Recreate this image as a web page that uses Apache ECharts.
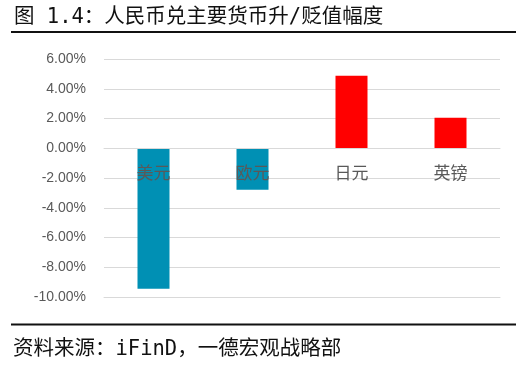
<!DOCTYPE html>
<html>
<head>
<meta charset="utf-8">
<script src="https://cdn.jsdelivr.net/npm/echarts@6/dist/echarts.min.js"></script>
<style>html,body{margin:0;padding:0;background:#fff;}#c{width:524px;height:368px;}</style>
</head>
<body>
<div id="c"></div>
<script>
const titleText = '图 1.4：人民币兑主要货币升/贬值幅度';
const sourceText = '资料来源：iFinD，一德宏观战略部';
const categories = ['美元', '欧元', '日元', '英镑'];
const values = [-9.45, -2.79, 4.87, 2.05];
const yMin = -10, yMax = 6, yStep = 2;

const gridTop = 59, gridBottom = 71, H = 368;
const plotH = H - gridTop - gridBottom;
const zeroOffset = -((0 - yMin) / (yMax - yMin)) * plotH;

const chart = echarts.init(document.getElementById('c'), null, {renderer: 'canvas'});
const monoFont = '"DejaVu Sans Mono", "Noto Sans CJK SC", sans-serif';
chart.setOption({
  animation: false,
  backgroundColor: '#ffffff',
  grid: {left: 104, right: 24, top: gridTop, bottom: gridBottom, containLabel: false},
  xAxis: [{
    type: 'category',
    data: categories,
    z: 10,
    position: 'bottom',
    offset: zeroOffset,
    axisLine: {show: true, onZero: false, lineStyle: {color: '#d9d9d9', width: 1}},
    axisTick: {show: false},
    axisLabel: {color: '#595959', fontSize: 17, margin: 16, fontFamily: '"Noto Sans CJK SC", sans-serif'},
    splitLine: {show: false}
  }, {
    type: 'category',
    data: categories,
    position: 'bottom',
    axisLine: {show: true, onZero: false, lineStyle: {color: '#d9d9d9', width: 1}},
    axisTick: {show: false},
    axisLabel: {show: false},
    splitLine: {show: false}
  }],
  yAxis: {
    type: 'value',
    min: yMin, max: yMax, interval: yStep,
    axisLine: {show: false},
    axisTick: {show: false},
    axisLabel: {color: '#595959', fontSize: 14, margin: 18, fontFamily: '"Liberation Sans", Arial, sans-serif',
      formatter: v => v.toFixed(2) + '%'},
    splitLine: {show: true, showMinLine: true, showMaxLine: true, lineStyle: {color: '#d9d9d9', width: 1}}
  },
  series: [{
    type: 'bar',
    xAxisIndex: 0,
    barWidth: 32,
    data: values.map(v => ({value: v, itemStyle: {color: v < 0 ? '#0090b4' : '#ff0000'}}))
  }],
  graphic: [
    {type: 'text', left: 14, top: 7, style: {text: titleText, font: '20.5px ' + monoFont, fill: '#111'}},
    {type: 'line', shape: {x1: 11, y1: 32, x2: 516, y2: 32}, style: {stroke: '#111', lineWidth: 2}},
    {type: 'line', shape: {x1: 11, y1: 324.5, x2: 516, y2: 324.5}, style: {stroke: '#111', lineWidth: 2}},
    {type: 'text', left: 13, top: 339, style: {text: sourceText, font: '20.5px ' + monoFont, fill: '#111'}}
  ]
});
</script>
</body>
</html>
